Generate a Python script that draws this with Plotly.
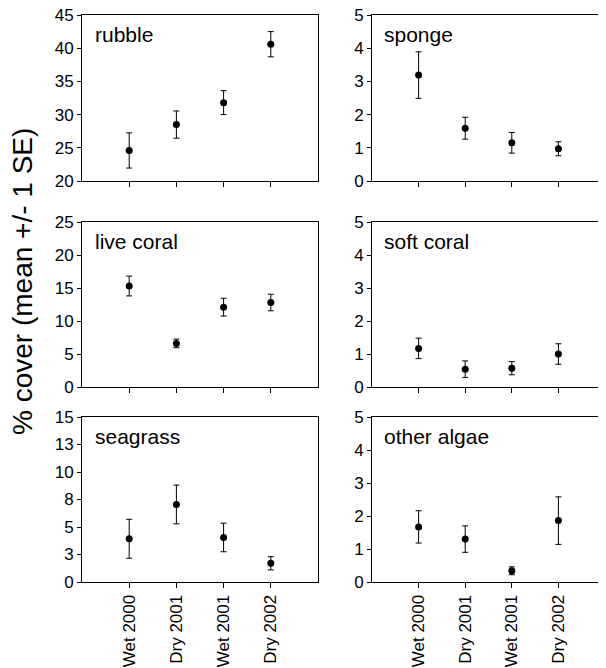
import plotly.graph_objects as go

seasons = ["Wet 2000", "Dry 2001", "Wet 2001", "Dry 2002"]

rubble_mean = [24.6, 28.5, 31.8, 40.6]
rubble_se = [2.65, 2.05, 1.8, 1.9]
sponge_mean = [3.19, 1.59, 1.15, 0.97]
sponge_se = [0.70, 0.33, 0.31, 0.21]
livecoral_mean = [15.3, 6.6, 12.1, 12.8]
livecoral_se = [1.5, 0.65, 1.35, 1.25]
softcoral_mean = [1.17, 0.54, 0.57, 1.0]
softcoral_se = [0.31, 0.25, 0.2, 0.31]
seagrass_mean = [3.93, 7.05, 4.05, 1.70]
seagrass_se = [1.77, 1.76, 1.3, 0.6]
algae_mean = [1.67, 1.30, 0.34, 1.86]
algae_se = [0.49, 0.40, 0.12, 0.72]

panel_names = ["rubble", "sponge", "live coral", "soft coral", "seagrass", "other algae"]
seagrass_tickvals = [0, 2.5, 5, 7.5, 10, 12.5, 15]
seagrass_ticktext = ["0", "3", "5", "8", "10", "13", "15"]

panels = [
    (rubble_mean, rubble_se, [20, 45], list(range(20, 46, 5)), None),
    (sponge_mean, sponge_se, [0, 5], list(range(0, 6)), None),
    (livecoral_mean, livecoral_se, [0, 25], list(range(0, 26, 5)), None),
    (softcoral_mean, softcoral_se, [0, 5], list(range(0, 6)), None),
    (seagrass_mean, seagrass_se, [0, 15], seagrass_tickvals, seagrass_ticktext),
    (algae_mean, algae_se, [0, 5], list(range(0, 6)), None),
]

# page body has an 8px default margin, so the figure is drawn offset by 8px
OFF = 8
W, H = 606 - OFF, 668 - OFF
xdoms = [((82 - OFF) / W, (318 - OFF) / W), ((372 - OFF) / W, (605 - OFF) / W)]
rows_px = [(15, 181), (222, 387), (417, 582)]
ydoms = [(1 - (b - OFF) / H, 1 - (t - OFF) / H) for (t, b) in rows_px]

fig = go.Figure()
FONT = "Liberation Sans, Arial, sans-serif"

for i, (mean, se, yr, tv, tt) in enumerate(panels):
    r, c = divmod(i, 2)
    n = i + 1
    xa = "x" if n == 1 else f"x{n}"
    ya = "y" if n == 1 else f"y{n}"
    fig.add_trace(go.Scatter(
        x=seasons, y=mean, mode="markers",
        marker=dict(color="black", size=7),
        error_y=dict(type="data", array=se, visible=True, color="black",
                     thickness=1, width=3),
        xaxis=xa, yaxis=ya, showlegend=False, cliponaxis=False,
    ))
    xkey = "xaxis" if n == 1 else f"xaxis{n}"
    ykey = "yaxis" if n == 1 else f"yaxis{n}"
    fig.layout[xkey] = dict(
        domain=xdoms[c], anchor=ya, type="category",
        categoryorder="array", categoryarray=seasons,
        range=[-1, 4], showgrid=False, zeroline=False, automargin=False,
        showline=True, mirror=True, linecolor="black", linewidth=1,
        ticks="outside", ticklen=5, tickcolor="black", tickwidth=1,
        showticklabels=(r == 2), tickangle=-90, ticklabeloverflow="allow",
        tickfont=dict(family=FONT, size=17, color="black"),
    )
    ydict = dict(
        domain=ydoms[r], anchor=xa, range=yr, showgrid=False, zeroline=False,
        automargin=False, ticklabeloverflow="allow",
        showline=True, mirror=True, linecolor="black", linewidth=1,
        ticks="outside", ticklen=4, tickcolor="black", tickwidth=1,
        tickvals=tv, tickfont=dict(family=FONT, size=17, color="black"),
    )
    if tt is not None:
        ydict["ticktext"] = tt
    fig.layout[ykey] = ydict
    fig.add_annotation(
        text=panel_names[i], xref=f"{xa} domain", yref=f"{ya} domain",
        x=0.045, y=0.88, xanchor="left", yanchor="middle", showarrow=False,
        font=dict(family=FONT, size=21, color="black"),
    )

fig.add_annotation(
    text="% cover (mean +/- 1 SE)", xref="paper", yref="paper",
    x=(22 - OFF) / W, y=1 - (282 - OFF) / H, xanchor="center", yanchor="middle",
    textangle=-90, showarrow=False,
    font=dict(family=FONT, size=28, color="black"),
)

fig.update_layout(
    width=W, height=H, margin=dict(l=0, r=0, t=0, b=0),
    paper_bgcolor="white", plot_bgcolor="white",
)

fig.write_html("out.html")
